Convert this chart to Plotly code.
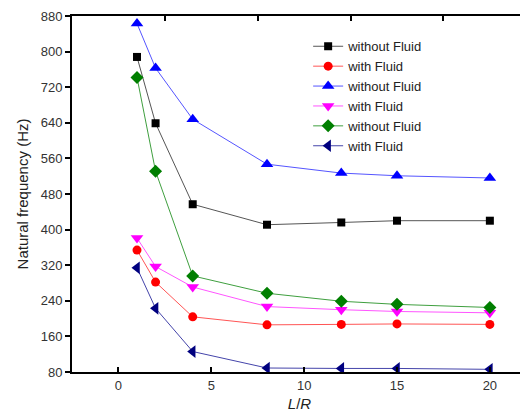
import plotly.graph_objects as go

x_lr = [1, 2, 4, 8, 12, 15, 20]
black_sq = [788, 639, 457, 411, 416, 420, 420]
red_circle = [354, 282, 204, 186, 187, 188, 187]
blue_up = [863, 763, 648, 547, 527, 521, 516]
magenta_down = [381, 317, 271, 227, 220, 216, 213]
green_diamond = [742, 531, 296, 257, 239, 232, 225]
navy_left = [314, 223, 126, 89, 88, 88, 86]

names = ["without Fluid", "with Fluid", "without Fluid", "with Fluid", "without Fluid", "with Fluid"]
series = [black_sq, red_circle, blue_up, magenta_down, green_diamond, navy_left]
marker_colors = ["#000000", "#ff0000", "#0000ff", "#ff00ff", "#007f00", "#00007f"]
line_colors = ["#555555", "#ff5555", "#5555ff", "#ff55ff", "#3f9f3f", "#4444aa"]
symbols = ["square", "circle", "triangle-up", "triangle-down", "diamond", "triangle-left"]
sizes = [8, 9, 11, 11, 10, 11]

yticks = [80, 160, 240, 320, 400, 480, 560, 640, 720, 800, 880]
xticks = [0, 5, 10, 15, 20]
top_ticks = [2.5, 7.5, 12.5, 17.5]

fig = go.Figure()
for ys, nm, mc, lc, sy, sz in zip(series, names, marker_colors, line_colors, symbols, sizes):
    fig.add_trace(go.Scatter(
        x=x_lr, y=ys, name=nm, mode="lines+markers",
        line=dict(color=lc, width=1),
        marker=dict(symbol=sy, color=mc, size=sz, line=dict(width=0)),
    ))

# invisible trace for top axis ticks
fig.add_trace(go.Scatter(x=[None], y=[None], xaxis="x2", showlegend=False))

font_family = "Liberation Sans, Arial, sans-serif"
fig.update_layout(
    width=520, height=404,
    margin=dict(l=64, r=1, t=8, b=40, autoexpand=False),
    paper_bgcolor="white", plot_bgcolor="white",
    font=dict(family=font_family, color="#333333", size=13),
    showlegend=True,
    legend=dict(
        x=0.519, y=0.957, xanchor="left", yanchor="top",
        bgcolor="rgba(0,0,0,0)", font=dict(size=13, color="#222222"),
        tracegroupgap=0, itemwidth=30,
    ),
    xaxis=dict(
        range=[-2.5, 22], tickvals=xticks, ticks="inside", ticklen=5, tickwidth=1.5,
        tickcolor="black", showline=True, linecolor="black", linewidth=2,
        showgrid=False, zeroline=False, automargin=False,
        title=dict(text="<i>L</i>/<i>R</i>", font=dict(size=15, color="#222222"), standoff=8),
        tickfont=dict(size=13, color="#333333"),
    ),
    xaxis2=dict(
        range=[-2.5, 22], overlaying="x", side="top", tickvals=top_ticks,
        ticks="inside", ticklen=5, tickwidth=1.5, tickcolor="black",
        showticklabels=False, showline=True, linecolor="black", linewidth=2,
        showgrid=False, zeroline=False, automargin=False,
    ),
    yaxis=dict(
        range=[80, 880], tickvals=yticks, ticks="outside", ticklen=5, tickwidth=1.5,
        tickcolor="black", showline=True, linecolor="black", linewidth=2,
        showgrid=False, zeroline=False, automargin=False,
        title=dict(text="Natural frequency (Hz)", font=dict(size=15, color="#222222"), standoff=8),
        tickfont=dict(size=13, color="#333333"),
    ),
)

fig.write_html("out.html")
